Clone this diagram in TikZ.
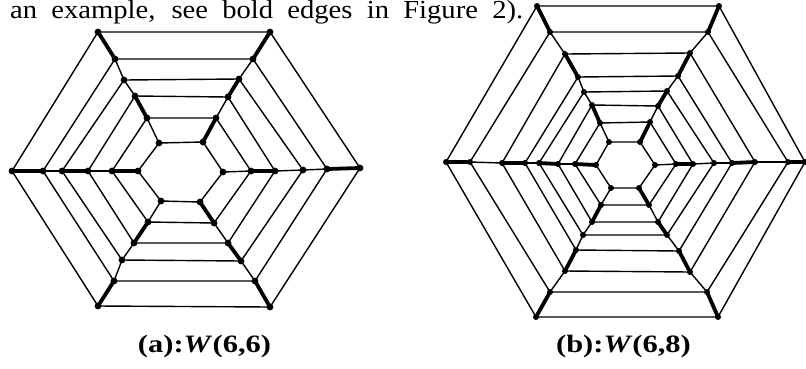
\documentclass[tikz,border=0pt]{standalone}
\usepackage{fontspec}
\setmainfont{Liberation Serif}
\newfontfamily\toptextfont[FakeStretch=1.1]{Liberation Serif}
\newfontfamily\captionfont[FakeStretch=1.22]{Liberation Serif}
\begin{document}
\begin{tikzpicture}[x=1pt,y=-1pt,
  thinedge/.style={line width=1.4pt},
  boldedge/.style={line width=3.8pt,line cap=round},
  txt/.style={inner sep=0pt,font=\toptextfont\fontsize{26}{30}\selectfont},
  captxt/.style={inner sep=0pt,anchor=base,font=\captionfont\bfseries\fontsize{25}{30}\selectfont}]
\useasboundingbox (0,0) rectangle (806,368);
% ---------- figure (a): W(6,6) ----------
\foreach \x/\y [count=\i] in {98/32,115/59,124/80,135/96,147/118,159/143} \coordinate (aUL\i) at (\x,\y);
\foreach \x/\y [count=\i] in {270/32,253/59,239/79,228/97,216/118,203/142} \coordinate (aUR\i) at (\x,\y);
\foreach \x/\y [count=\i] in {12/171,43/171,62/171,88/171,112/171,138/171} \coordinate (aL\i) at (\x,\y);
\foreach \x/\y [count=\i] in {360/168,327/169,303/170,275/171,251/171,223/172} \coordinate (aR\i) at (\x,\y);
\foreach \x/\y [count=\i] in {98/306,114/281,122/260,134/243,148/222,161/201} \coordinate (aLL\i) at (\x,\y);
\foreach \x/\y [count=\i] in {270/307,255/281,241/261,228/243,214/223,200/202} \coordinate (aLR\i) at (\x,\y);
% rings
\foreach \k in {1,...,6}
  \draw[thinedge] (aUL\k) -- (aUR\k) -- (aR\k) -- (aLR\k) -- (aLL\k) -- (aL\k) -- cycle;
% spokes
\foreach \s in {aUL,aUR,aL,aR,aLL,aLR}
  \foreach \k/\m in {1/2,2/3,3/4,4/5,5/6}
    \draw[thinedge] (\s\k) -- (\s\m);
% bold spoke edges
\foreach \s in {aL,aUR,aLR}
  \foreach \k/\m in {1/2,3/4,5/6}
    \draw[boldedge] (\s\k) -- (\s\m);
\foreach \s in {aR,aUL,aLL}
  \foreach \k/\m in {1/2,4/5}
    \draw[boldedge] (\s\k) -- (\s\m);
% vertices
\foreach \s in {aUL,aUR,aL,aR,aLL,aLR}
  \foreach \k in {1,...,6}
    \fill (\s\k) circle (3.4pt);
% ---------- figure (b): W(6,8) ----------
\foreach \x/\y [count=\i] in {537/6,550/32,565/54,578/77,584/92,592/105,600/123,609/142} \coordinate (bUL\i) at (\x,\y);
\foreach \x/\y [count=\i] in {719/6,708/32,690/53,678/76,667/91,658/106,650/122,640/142} \coordinate (bUR\i) at (\x,\y);
\foreach \x/\y [count=\i] in {446/162,470/162,502/163,525/163,539/163,558/164,575/164,596/165} \coordinate (bL\i) at (\x,\y);
\foreach \x/\y [count=\i] in {805/162,788/162,755/162,732/163,714/163,693/164,676/164,655/165} \coordinate (bR\i) at (\x,\y);
\foreach \x/\y [count=\i] in {536/317,550/292,565/271,576/250,583/235,592/222,601/205,611/188} \coordinate (bLL\i) at (\x,\y);
\foreach \x/\y [count=\i] in {718/317,707/292,690/272,679/251,667/235,658/222,649/205,639/188} \coordinate (bLR\i) at (\x,\y);
\foreach \k in {1,...,8}
  \draw[thinedge] (bUL\k) -- (bUR\k) -- (bR\k) -- (bLR\k) -- (bLL\k) -- (bL\k) -- cycle;
\foreach \s in {bUL,bUR,bL,bR,bLL,bLR}
  \foreach \k/\m in {1/2,2/3,3/4,4/5,5/6,6/7,7/8}
    \draw[thinedge] (\s\k) -- (\s\m);
\foreach \s in {bL,bUR,bLR}
  \foreach \k/\m in {1/2,3/4,5/6,7/8}
    \draw[boldedge] (\s\k) -- (\s\m);
\foreach \s in {bR,bUL,bLL}
  \foreach \k/\m in {1/2,3/4,6/7}
    \draw[boldedge] (\s\k) -- (\s\m);
\foreach \s in {bUL,bUR,bL,bR,bLL,bLR}
  \foreach \k in {1,...,8}
    \fill (\s\k) circle (3pt);
% ---------- texts ----------
\node[txt,anchor=base west] (toptext) at (10,18)
  {\makebox[513pt][s]{an example, see bold edges in Figure 2).}};
\node[captxt] (capa) at (204.5,352) {(a):\textit{W}(6,6)};
\node[captxt] (capb) at (623.5,352) {(b):\textit{W}(6,8)};
\end{tikzpicture}
\end{document}
